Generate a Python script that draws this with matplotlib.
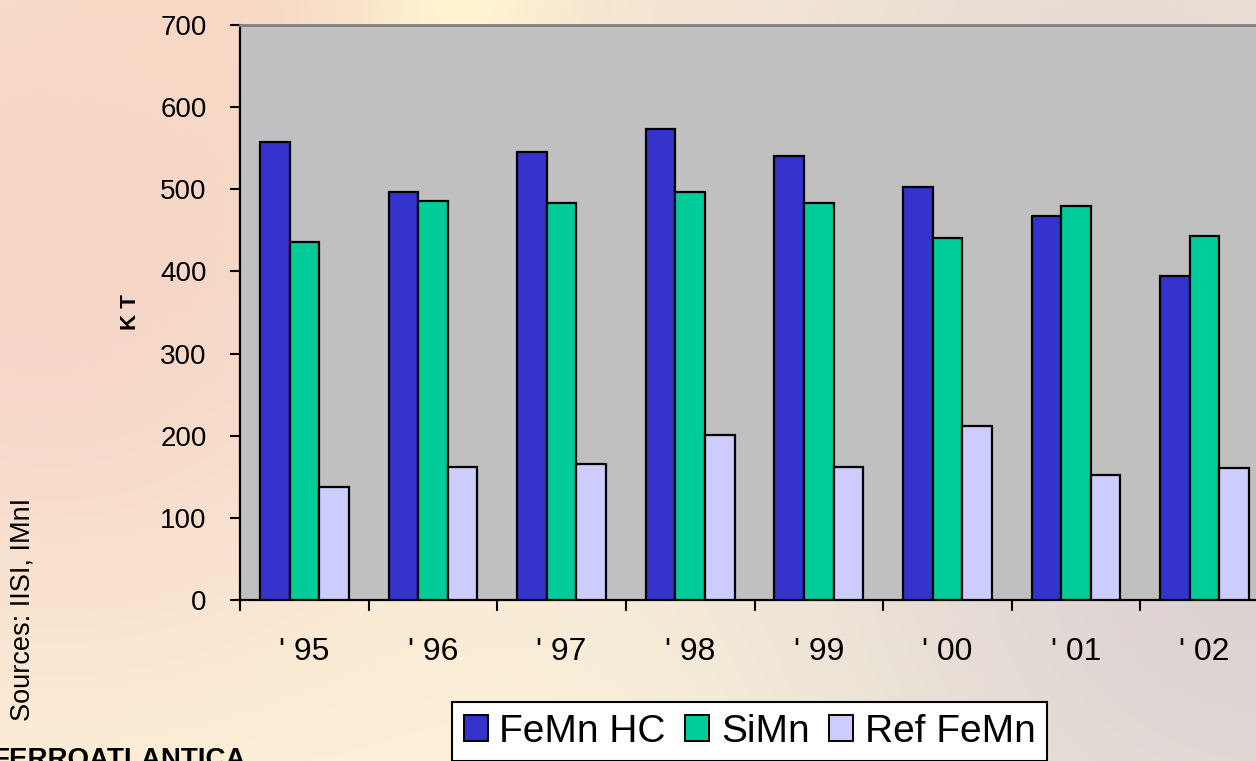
import numpy as np
import matplotlib

matplotlib.use("Agg")
import matplotlib.pyplot as plt
from matplotlib.patches import Patch

# ── Data ──────────────────────────────────────────────────────────────────────
YEARS = ["' 95", "' 96", "' 97", "' 98", "' 99", "' 00", "' 01", "' 02"]
FEMN_HC = [558, 497, 545, 573, 540, 503, 467, 395]
SIMN = [436, 486, 483, 497, 483, 441, 480, 443]
REF_FEMN = [138, 162, 166, 201, 162, 212, 152, 161]

SERIES = ["FeMn HC", "SiMn", "Ref FeMn"]
COLORS = ["#3333CC", "#00CC99", "#CCCCFF"]

W, H = 1256, 761
FONT = ["Liberation Sans", "DejaVu Sans"]


def background():
    # soft warm backdrop in place of the slide's photo
    yy, xx = np.mgrid[0:H:4, 0:W:4].astype(float)
    img = np.ones(xx.shape + (3,)) * np.array([1.0, 0.97, 0.86])
    blobs = [
        ((40, 250), 330, (0.96, 0.82, 0.78), 0.9),
        ((250, 0), 260, (0.97, 0.84, 0.76), 0.7),
        ((1256, 560), 360, (0.86, 0.82, 0.83), 0.95),
        ((1100, 60), 300, (0.89, 0.83, 0.82), 0.7),
        ((460, 0), 70, (1.0, 0.97, 0.82), 0.9),
    ]
    for (cx, cy), s, col, k in blobs:
        w = k * np.exp(-((xx - cx) ** 2 + (yy - cy) ** 2) / (2 * s * s))
        img = img * (1 - w[..., None]) + np.array(col) * w[..., None]
    return img


fig = plt.figure(figsize=(W / 100, H / 100), dpi=100)
bg = fig.add_axes([0, 0, 1, 1], zorder=-10)
bg.imshow(background(), aspect="auto", interpolation="bilinear")
bg.axis("off")

# plot area runs past the right edge of the slide
ax = fig.add_axes([240 / W, 1 - 600 / H, 1029 / W, 575 / H])
ax.set_facecolor("#C0C0C0")

x = np.arange(len(YEARS))
bw = 0.23
for i, (vals, col) in enumerate(zip([FEMN_HC, SIMN, REF_FEMN], COLORS)):
    ax.bar(x + (i - 1) * bw, vals, width=bw, color=col, edgecolor="black",
           linewidth=1.6, zorder=3)

ax.set_xlim(-0.5, len(YEARS) - 0.5)
ax.set_ylim(0, 700)
ax.set_yticks(range(0, 701, 100))
ax.set_yticklabels([str(v) for v in range(0, 701, 100)], fontsize=20, family=FONT)
ax.tick_params(axis="y", length=7, width=1.5, pad=17, direction="out")

ax.set_xticks(x)
ax.set_xticklabels(YEARS, fontsize=23, family=FONT)
ax.set_xticks(np.arange(len(YEARS) + 1) - 0.5, minor=True)
ax.tick_params(axis="x", which="major", length=0, pad=27)
ax.tick_params(axis="x", which="minor", length=8, width=1.5, direction="out")

for s in ("left", "bottom"):
    ax.spines[s].set_color("black")
    ax.spines[s].set_linewidth(1.6)
ax.spines["top"].set_color("#808080")
ax.spines["top"].set_linewidth(2)
ax.spines["right"].set_visible(False)

fig.text(130 / W, 1 - 312 / H, "K T", rotation=90, ha="center", va="center",
         fontsize=16, fontweight="bold", family=FONT)
fig.text(23 / W, 1 - 609 / H, "Sources: IISI, IMnI", rotation=90, ha="center",
         va="center", fontsize=19.5, family=FONT)
fig.text(-8 / W, 1 - 747 / H, "FERROATLANTICA", ha="left", va="top",
         fontsize=20, fontweight="bold", family=FONT)

handles = [Patch(facecolor=c, edgecolor="black", linewidth=1.4) for c in COLORS]
leg = fig.legend(handles, SERIES, loc="upper left",
                 bbox_to_anchor=(452 / W, 1 - 702 / H), ncol=3,
                 frameon=True, fancybox=False, borderaxespad=0, borderpad=0.3,
                 handlelength=0.62, handleheight=0.62, handletextpad=0.3,
                 columnspacing=0.5, prop={"family": FONT, "size": 28})
leg.get_frame().set_edgecolor("black")
leg.get_frame().set_linewidth(1.5)
leg.get_frame().set_facecolor("white")
leg.get_frame().set_alpha(1)

fig.savefig("out.png", dpi=100)
